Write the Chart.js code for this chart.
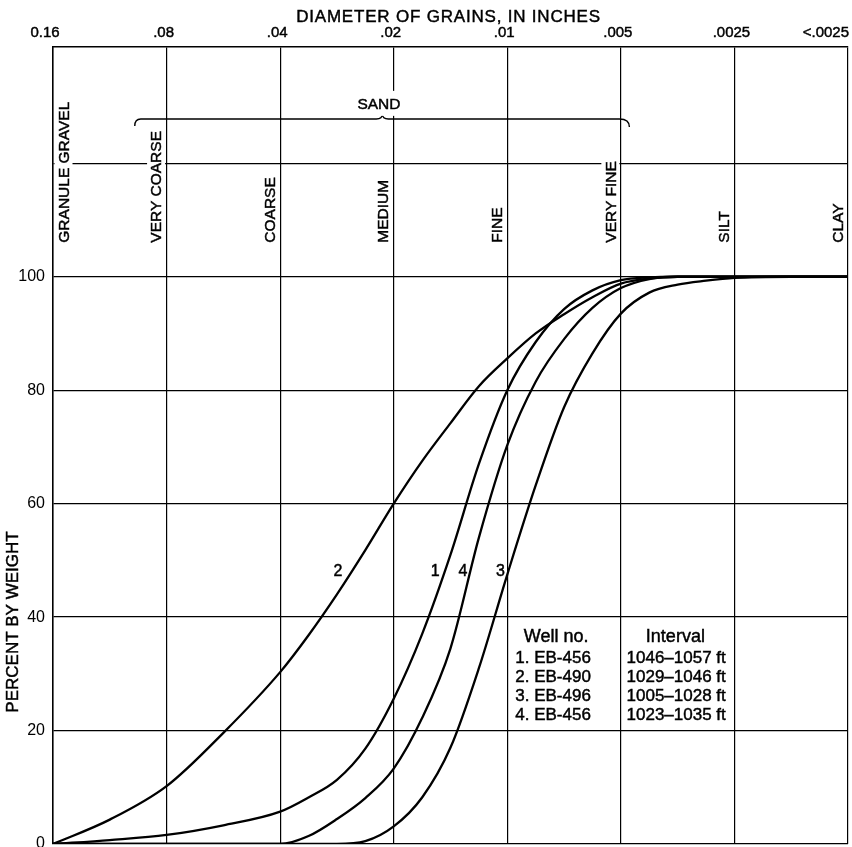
<!DOCTYPE html>
<html>
<head>
<meta charset="utf-8">
<script src="https://cdn.jsdelivr.net/npm/chart.js@4.4.1/dist/chart.umd.min.js"></script>
<style>
  html, body { margin: 0; background: #fff; }
  #wrap { width: 852px; height: 847px; position: relative; }
</style>
</head>
<body>
<div id="wrap"><canvas id="grainChart"></canvas></div>
<script>
// diameter of grains (inches), one grid step per halving
const diameterLabels = ['0.16', '.08', '.04', '.02', '.01', '.005', '.0025', '<.0025'];
const gradeClasses = ['GRANULE GRAVEL', 'VERY COARSE', 'COARSE', 'MEDIUM', 'FINE', 'VERY FINE', 'SILT', 'CLAY'];
const percentTicks = [0, 20, 40, 60, 80, 100, 120];

// positions along the diameter axis (0 = 0.16 in, 1 = .08 in, ...)
const steps  = [0, 0.5, 1, 1.5, 2, 2.25, 2.5, 2.75, 3, 3.25, 3.5, 3.75, 4, 4.25, 4.5, 4.75, 5, 5.25, 5.5, 5.75, 6, 6.5, 7];
// cumulative percent by weight
const curve1 = [0, 0.7, 1.6, 3.3, 5.7, 8.2, 11.3, 16.8, 25.6, 37, 51, 67, 80, 88.5, 94.3, 97.6, 99.4, 99.9, 100, 100, 100, 100, 100];
const curve2 = [0, 4.3, 10.2, 19.6, 30.3, 36.8, 44, 51.8, 60, 67.5, 74.2, 80.7, 85.6, 90, 93.4, 96.4, 98.8, 99.7, 100, 100, 100, 100, 100];
const curve3 = [0, 0, 0, 0, 0, 0, 0, 0.5, 3.1, 8.2, 17, 31, 47.5, 63.2, 77, 86.5, 93.5, 97.2, 98.6, 99.3, 99.8, 100, 100];
const curve4 = [0, 0, 0, 0, 0, 1.4, 4.4, 8.1, 13.3, 22.2, 34.5, 54, 70.3, 81.5, 89, 94.5, 98, 99.6, 100, 100, 100, 100, 100];

const curveTags = ['1', '2', '3', '4'];
const wells = ['1. EB-456', '2. EB-490', '3. EB-496', '4. EB-456'];
const intervals = ['1046–1057 ft', '1029–1046 ft', '1005–1028 ft', '1023–1035 ft'];

const FONT = '"Liberation Sans", Arial, Helvetica, sans-serif';
Chart.defaults.font.family = FONT;
Chart.defaults.color = '#000';

function series(vals){
  return {
    data: steps.map((s, i) => ({x: s, y: vals[i]})),
    borderColor: '#000', borderWidth: 2.3, pointRadius: 0,
    cubicInterpolationMode: 'monotone', fill: false
  };
}

// print-like text: fill plus a hairline stroke so it reads a bit heavier
function ink(ctx, t, px, py){
  ctx.fillText(t, px, py);
  ctx.strokeText(t, px, py);
}

// text, brace and table drawn over the plot
const notes = {
  id: 'notes',
  afterDatasetsDraw(chart){
    const {ctx, scales: {x, y}, chartArea: a} = chart;
    ctx.save();
    ctx.fillStyle = '#000';
    ctx.strokeStyle = '#000';
    ctx.textBaseline = 'middle';

    // axis title across the top
    ctx.lineWidth = 0.45;
    ctx.font = '17px ' + FONT;
    ctx.textAlign = 'center';
    ctx.letterSpacing = '0.8px';
    ink(ctx, 'DIAMETER OF GRAINS, IN INCHES', (a.left + a.right) / 2 - 2, 17);
    ctx.letterSpacing = '0px';

    // diameter labels over the top border
    ctx.font = '15px ' + FONT;
    diameterLabels.forEach((t, i) => {
      const px = x.getPixelForValue(i);
      if (i === 0) { ctx.textAlign = 'center'; ink(ctx, t, px - 8, 33); }
      else if (i === diameterLabels.length - 1) { ctx.textAlign = 'right'; ink(ctx, t, px + 1, 33); }
      else { ctx.textAlign = 'center'; ink(ctx, t, px - 3, 33); }
    });

    // grade class names, rotated, knocked out of the grid
    ctx.font = '15.5px ' + FONT;
    const base = y.getPixelForValue(106);
    gradeClasses.forEach((t, i) => {
      const px = i === 0 ? x.getPixelForValue(0) + 10.5 : x.getPixelForValue(i) - 10.5;
      const w = ctx.measureText(t).width;
      ctx.fillStyle = '#fff';
      ctx.fillRect(px - 9, base - w - 4, 18, w + 6);
      ctx.fillStyle = '#000';
      ctx.save();
      ctx.translate(px, base);
      ctx.rotate(-Math.PI / 2);
      ctx.textAlign = 'left';
      ink(ctx, t, 0, 1);
      ctx.restore();
    });

    // brace over the sand classes
    const by = y.getPixelForValue(127.8);
    const xl = x.getPixelForValue(0.72), xr = x.getPixelForValue(5.04), tip = x.getPixelForValue(2.9);
    ctx.lineWidth = 1.4;
    ctx.beginPath();
    ctx.moveTo(xl, by + 7);
    ctx.quadraticCurveTo(xl, by, xl + 6, by);
    ctx.lineTo(tip - 6, by);
    ctx.quadraticCurveTo(tip, by, tip, by - 5);
    ctx.quadraticCurveTo(tip, by, tip + 6, by);
    ctx.lineTo(xr - 6, by);
    ctx.quadraticCurveTo(xr + 4, by, xr + 4, by + 8);
    ctx.stroke();

    ctx.lineWidth = 0.45;
    ctx.font = '15.5px ' + FONT;
    const sx = x.getPixelForValue(2.87), sy = y.getPixelForValue(130.3);
    ctx.fillStyle = '#fff';
    ctx.fillRect(sx - 24, sy - 14, 48, 25);
    ctx.fillStyle = '#000';
    ctx.textAlign = 'center';
    ink(ctx, 'SAND', sx, sy);

    // y title
    ctx.font = '17px ' + FONT;
    ctx.save();
    ctx.translate(13, 622);
    ctx.rotate(-Math.PI / 2);
    ink(ctx, 'PERCENT BY WEIGHT', 0, 0);
    ctx.restore();

    // curve numbers
    ctx.font = '16px ' + FONT;
    const tagAt = [3.365, 2.51, 3.94, 3.61];
    curveTags.forEach((t, i) => {
      ink(ctx, t, x.getPixelForValue(tagAt[i]), y.getPixelForValue(48));
    });

    // well table
    ctx.font = '18px ' + FONT;
    ink(ctx, 'Well no.', x.getPixelForValue(4.43), y.getPixelForValue(36.5));
    ink(ctx, 'Interval', x.getPixelForValue(5.48), y.getPixelForValue(36.5));
    ctx.font = '17px ' + FONT;
    ctx.textAlign = 'left';
    wells.forEach((t, i) => {
      const py = y.getPixelForValue(32.8 - i * 3.35);
      ink(ctx, t, x.getPixelForValue(4.07), py);
      ink(ctx, intervals[i], x.getPixelForValue(5.05), py);
    });
    ctx.restore();
  }
};

const gridStyle = {color: '#000', lineWidth: 1.2, drawTicks: false};

new Chart(document.getElementById('grainChart'), {
  type: 'line',
  data: {datasets: [series(curve1), series(curve2), series(curve3), series(curve4)]},
  options: {
    responsive: true, maintainAspectRatio: false, animation: false,
    layout: {padding: {left: 0, right: 4, top: 0, bottom: 3}},
    plugins: {legend: {display: false}, tooltip: {enabled: false}},
    scales: {
      x: {
        type: 'linear', position: 'top', min: 0, max: 7,
        ticks: {display: false, stepSize: 1},
        grid: gridStyle,
        border: {display: true, color: '#000', width: 1.5},
        afterFit: s => { s.height = 47; s.paddingLeft = 0; s.paddingRight = 0; }
      },
      y: {
        min: 0, max: 140.5,
        afterBuildTicks: s => { s.ticks = percentTicks.map(v => ({value: v})); },
        ticks: {font: {size: 16}, padding: 8, callback: v => (v <= 100 ? v : '')},
        grid: gridStyle,
        border: {display: true, color: '#000', width: 1.5},
        afterFit: s => { s.width = 53; s.paddingTop = 0; s.paddingBottom = 0; }
      }
    }
  },
  plugins: [notes]
});
</script>
</body>
</html>
